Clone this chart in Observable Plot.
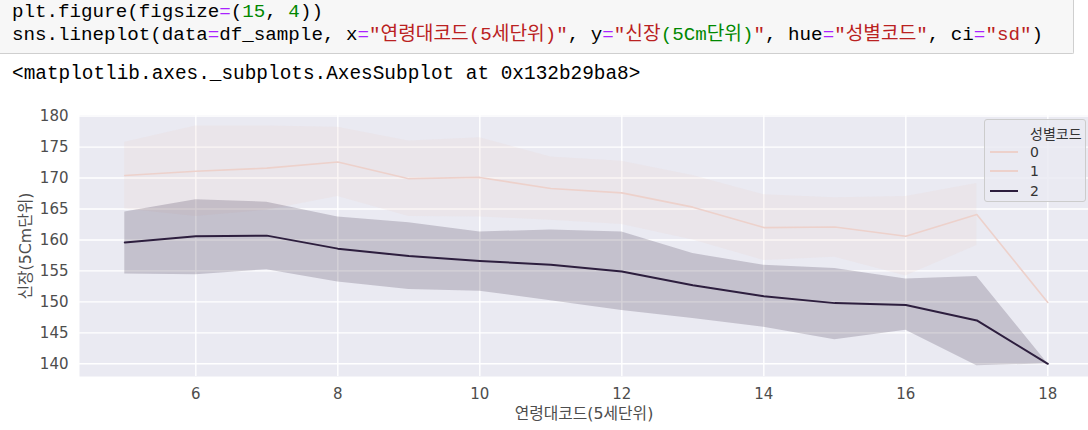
<!DOCTYPE html>
<html>
<head>
<meta charset="utf-8">
<script src="https://cdn.jsdelivr.net/npm/d3@7"></script>
<script src="https://cdn.jsdelivr.net/npm/@observablehq/plot@0.6"></script>
<style>
  html, body { margin: 0; padding: 0; background: #fff; }
  body { width: 1088px; height: 430px; overflow: hidden; position: relative; }
  #code { position: absolute; left: 0; top: 0; width: 1073px; height: 53px; background: #f7f7f7; border: 1px solid #cfcfcf; border-top: none; border-left: none; border-bottom-right-radius: 2px; }
  .cl { position: absolute; left: 12px; white-space: pre; font-family: "Liberation Mono", "DejaVu Sans Mono", "Noto Sans CJK KR", monospace; font-size: 19.2px; color: #000; line-height: 1; }
  .op { color: #aa22ff; } .num { color: #008800; } .str { color: #ba2121; }
  #out { position: absolute; left: 12px; top: 65px; white-space: pre; font-family: "Liberation Mono", "DejaVu Sans Mono", monospace; font-size: 19.4px; color: #000; line-height: 1; }
  #chart { position: absolute; left: 0; top: 95px; }
  #legend { position: absolute; left: 984px; top: 119px; width: 100px; height: 81px; background: rgba(234,234,242,0.85); border: 1px solid #cccccc; border-radius: 3px; font-family: "DejaVu Sans", "Noto Sans CJK KR", sans-serif; font-size: 14px; color: #333; }
  #legend .row { position: absolute; left: 0; height: 18px; display: flex; align-items: center; }
  #legend .sw { width: 28px; margin-left: 5px; margin-right: 12px; }
</style>
</head>
<body>
<div id="code">
  <div class="cl" style="top:3px">plt.figure(figsize<span class="op">=</span>(<span class="num">15</span>, <span class="num">4</span>))</div>
  <div class="cl" style="top:26px">sns.lineplot(data<span class="op">=</span>df_sample, x<span class="op">=</span><span class="str">"연령대코드(5세단위)"</span>, y<span class="op">=</span><span class="str">"신장</span><span class="num">(5Cm단위)</span><span class="str">"</span>, hue<span class="op">=</span><span class="str">"성별코드"</span>, ci<span class="op">=</span><span class="str">"sd"</span>)</div>
</div>
<div id="out">&lt;matplotlib.axes._subplots.AxesSubplot at 0x132b29ba8&gt;</div>
<div id="chart"></div>
<div id="legend"></div>
<script>
// ---- data ----
const ages = [5, 6, 7, 8, 9, 10, 11, 12, 13, 14, 15, 16, 17, 18];
// hue = 1
const mean1 = [170.4, 171.1, 171.6, 172.6, 169.9, 170.1, 168.3, 167.6, 165.3, 162.0, 162.1, 160.6, 164.1, 149.9];
const lo1   = [165.0, 163.8, 164.8, 167.0, 163.8, 163.7, 163.2, 162.5, 160.0, 156.7, 157.2, 154.2, 159.1, null];
const hi1   = [175.8, 178.4, 178.4, 178.2, 176.0, 176.5, 173.4, 172.7, 170.4, 167.3, 166.8, 167.0, 169.1, null];
// hue = 2
const mean2 = [159.6, 160.6, 160.7, 158.6, 157.4, 156.6, 156.0, 154.9, 152.7, 150.9, 149.8, 149.5, 147.0, 140.0];
const lo2   = [154.5, 154.4, 155.2, 153.2, 152.0, 151.7, 150.2, 148.6, 147.3, 145.9, 143.9, 145.4, 139.7, 140.0];
const hi2   = [164.5, 166.5, 166.1, 163.7, 162.8, 161.3, 161.6, 161.3, 157.8, 155.9, 155.4, 153.7, 154.1, 140.0];

const xTicks = [6, 8, 10, 12, 14, 16, 18];
const yTicks = [140, 145, 150, 155, 160, 165, 170, 175, 180];
const legendTitle = "성별코드";
const legendLabels = ["0", "1", "2"];
const legendColors = ["#edd1cb", "#edd1cb", "#2d1e3e"];
const c1 = "#edd1cb", c2 = "#2d1e3e";

const s1 = ages.map((a, i) => ({age: a, m: mean1[i], lo: lo1[i], hi: hi1[i]}));
const s2 = ages.map((a, i) => ({age: a, m: mean2[i], lo: lo2[i], hi: hi2[i]}));

const chart = Plot.plot({
  width: 1088,
  height: 335,
  marginLeft: 79,
  marginRight: 0,
  marginTop: 20,
  marginBottom: 54,
  style: { fontFamily: "'DejaVu Sans', 'Noto Sans CJK KR', sans-serif", fontSize: "14px", color: "#4d4d4d", background: "transparent", overflow: "visible" },
  x: { domain: [4.362, 18.573], ticks: xTicks, tickSize: 0, tickPadding: 12, tickFormat: d => String(d), label: "연령대코드(5세단위)", labelArrow: "none", labelAnchor: "center", labelOffset: 42 },
  y: { domain: [137.95, 180.1], ticks: yTicks, tickSize: 0, tickPadding: 11, tickFormat: d => String(d), label: "신장(5Cm단위)", labelArrow: "none", labelAnchor: "center", labelOffset: 60 },
  marks: [
    Plot.frame({ fill: "#eaeaf2", stroke: null }),
    Plot.ruleX(xTicks, { stroke: "#ffffff", strokeWidth: 1.4 }),
    Plot.ruleY(yTicks, { stroke: "#ffffff", strokeWidth: 1.4 }),
    Plot.areaY(s1.filter(d => d.lo != null), { x: "age", y1: "lo", y2: "hi", fill: c1, fillOpacity: 0.2 }),
    Plot.line(s1, { x: "age", y: "m", stroke: c1, strokeWidth: 1.6 }),
    Plot.areaY(s2, { x: "age", y1: "lo", y2: "hi", fill: c2, fillOpacity: 0.2 }),
    Plot.line(s2, { x: "age", y: "m", stroke: c2, strokeWidth: 2 })
  ]
});
// font sizes of tick labels and axis labels
chart.querySelectorAll('g[aria-label$="tick label"]').forEach(g => {
  g.setAttribute("font-size", "15");
  g.querySelectorAll("text").forEach(t => t.style.fontSize = "15px");
});
chart.querySelectorAll('g[aria-label$="axis label"]').forEach(g => {
  g.setAttribute("font-size", "15.8");
  g.querySelectorAll("text").forEach(t => t.style.fontSize = "15.8px");
});
document.getElementById("chart").appendChild(chart);

// legend
const lg = document.getElementById("legend");
const title = document.createElement("div");
title.className = "row"; title.style.top = "4px"; title.style.left = "45px";
title.textContent = legendTitle;
lg.appendChild(title);
const rowTops = [23, 42, 62];
legendLabels.forEach((lab, i) => {
  const r = document.createElement("div");
  r.className = "row";
  r.style.top = rowTops[i] + "px";
  const sw = document.createElement("div");
  sw.className = "sw";
  sw.style.height = (i === 2 ? 2 : 2) + "px";
  sw.style.background = legendColors[i];
  r.appendChild(sw);
  const t = document.createElement("span");
  t.textContent = lab;
  r.appendChild(t);
  lg.appendChild(r);
});
</script>
</body>
</html>
